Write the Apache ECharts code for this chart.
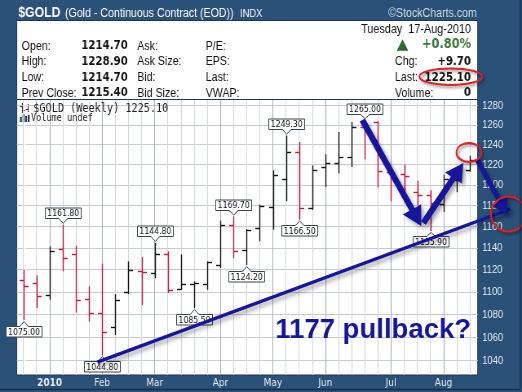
<!DOCTYPE html>
<html>
<head>
<meta charset="utf-8">
<script src="https://cdn.jsdelivr.net/npm/echarts@6/dist/echarts.min.js"></script>
<style>
html,body{margin:0;padding:0;background:#2c5178;overflow:hidden;width:522px;height:392px}
#chart{width:640px;height:392px;transform:scaleX(0.815625);transform-origin:0 0}
</style>
</head>
<body>
<div id="chart"></div>
<script>
// ---------- DATA (weekly OHLC, $GOLD) ----------
const weeks = ['2009-12-21','2009-12-28','2010-01-04','2010-01-11','2010-01-18','2010-01-25','2010-02-01','2010-02-08','2010-02-15','2010-02-22','2010-03-01','2010-03-08','2010-03-15','2010-03-22','2010-03-29','2010-04-05','2010-04-12','2010-04-19','2010-04-26','2010-05-03','2010-05-10','2010-05-17','2010-05-24','2010-05-31','2010-06-07','2010-06-14','2010-06-21','2010-06-28','2010-07-05','2010-07-12','2010-07-19','2010-07-26','2010-08-02','2010-08-09','2010-08-16'];
const opens  = [1111, 1108, 1097, 1139, 1134, 1093.5, 1081, 1069, 1100, 1118.5, 1117, 1134, 1102.5, 1107.5, 1107.3, 1124.6, 1162, 1137.8, 1158.8, 1178.5, 1206, 1233, 1178, 1217.7, 1221.3, 1227.5, 1258, 1263, 1213, 1211, 1193, 1190, 1182, 1205, 1215];
const highs  = [1120, 1115, 1141.5, 1161.8, 1142, 1105, 1125.5, 1098, 1127.6, 1131.6, 1144.8, 1137, 1134, 1109.5, 1127.6, 1165.7, 1169.7, 1157.8, 1181, 1214.4, 1249.3, 1242.7, 1219.3, 1230.3, 1252.9, 1263.2, 1265, 1264, 1219, 1220, 1204, 1195, 1210, 1214, 1228.9];
const lows   = [1075, 1085.5, 1093, 1118.5, 1081.6, 1073.7, 1044.8, 1062, 1098, 1088.4, 1112.4, 1099, 1102, 1085.5, 1101.9, 1121.6, 1130.8, 1124.2, 1146.2, 1157.2, 1184.3, 1166.5, 1176, 1197.9, 1211.4, 1217.7, 1225.3, 1197.6, 1184, 1186, 1179.6, 1155.9, 1174, 1193, 1213];
const closes = [1105, 1096, 1137.5, 1131, 1093, 1081, 1065, 1093, 1119.4, 1118, 1134, 1102, 1107.3, 1108, 1127, 1162, 1136.8, 1157, 1179.4, 1209.4, 1233, 1178, 1214.7, 1221.3, 1227.5, 1258, 1256, 1213.4, 1210, 1209, 1190, 1182.5, 1205.6, 1212, 1225.1];

const monthTickIdx    = [2, 6, 10, 15, 19, 23, 28, 32];
const monthTickLabels = ['2010', 'Feb', 'Mar', 'Apr', 'May', 'Jun', 'Jul', 'Aug'];
const priceTicks = [1040, 1060, 1080, 1100, 1120, 1140, 1160, 1180, 1200, 1220, 1240, 1260, 1280];
const yMin = 1028, yMax = 1286.5;

const calloutWeek  = [0, 3, 6, 10, 13, 16, 17, 20, 21, 26, 31];
const calloutPrice = [1075.00, 1161.80, 1044.80, 1144.80, 1085.50, 1169.70, 1124.20, 1249.30, 1166.50, 1265.00, 1155.90];
const calloutSide  = ['below', 'above', 'below', 'above', 'below', 'above', 'below', 'above', 'below', 'above', 'below'];

const quoteLabels1 = ['Open:', 'High:', 'Low:', 'Prev Close:'];
const quoteValues1 = ['1214.70', '1228.90', '1214.70', '1215.40'];
const quoteLabels2 = ['Ask:', 'Ask Size:', 'Bid:', 'Bid Size:'];
const quoteLabels3 = ['P/E:', 'EPS:', 'Last:', 'VWAP:'];
const quoteLabelsR = ['Chg:', 'Last:', 'Volume:'];
const quoteValuesR = ['+9.70', '1225.10', '0'];

// ---------- hand-drawn annotations, anchored in (week index, price) ----------
const ann = {
  trend:  [[5.63, 1038.8], [37.09, 1176.8]],
  arrow1: [[25.81, 1265.2], [30.30, 1160.6]],
  arrow2: [[30.46, 1163.4], [33.51, 1221.6]],
  arrow3: [[34.57, 1224.7], [36.86, 1171.0]],
  ring1:  [33.93, 1232.2],
  ring2:  [36.94, 1172.0],
  note:   [26.64, 1066.3]
};

// ---------- rendering ----------
const S = 522 / 640;           // horizontal squeeze of the original picture
const RED = '#d0163c', BLACK = '#141414', NAVY = '#16169c', RING = '#e21f1f';
const ln = Math.log;

const ohlcData = weeks.map((w, i) => [i, ln(opens[i]), ln(highs[i]), ln(lows[i]), ln(closes[i])]);
const calloutData = calloutWeek.map((w, k) => [w, ln(calloutPrice[k])]);

function renderOHLC(params, api) {
  const i = api.value(0);
  const pO = api.coord([i, api.value(1)]);
  const pH = api.coord([i, api.value(2)]);
  const pL = api.coord([i, api.value(3)]);
  const pC = api.coord([i, api.value(4)]);
  const k = params.dataIndex;
  const prev = k > 0 ? closes[k - 1] : opens[k];
  const color = closes[k] < prev ? RED : BLACK;
  const x = Math.round(pO[0]) + 0.5;
  const tw = 5.5;
  const st = {stroke: color, lineWidth: 1.4};
  const yo = Math.round(pO[1]) + 0.5, yc = Math.round(pC[1]) + 0.5;
  return {type: 'group', children: [
    {type: 'line', shape: {x1: x, y1: pH[1], x2: x, y2: pL[1]}, style: st},
    {type: 'line', shape: {x1: x - tw, y1: yo, x2: x, y2: yo}, style: st},
    {type: 'line', shape: {x1: x, y1: yc, x2: x + tw, y2: yc}, style: st}
  ]};
}

function renderCallout(params, api) {
  const k = params.dataIndex;
  const p = api.coord([api.value(0), api.value(1)]);
  const x = Math.round(p[0]) + 0.5;
  const w = 44, h = 10.5, ph = 5, pw = 5.5;
  let pts, ty;
  if (calloutSide[k] === 'above') {
    const apex = p[1] - 1.5, bb = Math.round(apex - ph) + 0.5, bt = bb - h;
    pts = [[x - w / 2, bt], [x + w / 2, bt], [x + w / 2, bb], [x + pw, bb], [x, apex], [x - pw, bb], [x - w / 2, bb]];
    ty = (bt + bb) / 2;
  } else {
    const apex = p[1] + 1.5, bt = Math.round(apex + ph) - 0.5, bb = bt + h;
    pts = [[x - w / 2, bt], [x - pw, bt], [x, apex], [x + pw, bt], [x + w / 2, bt], [x + w / 2, bb], [x - w / 2, bb]];
    ty = (bt + bb) / 2;
  }
  return {type: 'group', children: [
    {type: 'polygon', shape: {points: pts}, style: {fill: '#ffffff', stroke: '#38434f', lineWidth: 1}},
    {type: 'text', style: {text: calloutPrice[k].toFixed(2), x: x, y: ty + 0.5,
      align: 'center', verticalAlign: 'middle', textAlign: 'center', textVerticalAlign: 'middle',
      fontSize: 9.5, fontFamily: 'DejaVu Sans', fill: '#111'}}
  ]};
}

function renderAnnotations(params, api) {
  const P = a => { const c = api.coord([a[0], ln(a[1])]); return [c[0] * S, c[1]]; };
  const back = pts => pts.map(p => [p[0] / S, p[1]]);
  const shadow = {shadowBlur: 4, shadowColor: 'rgba(0,0,0,0.35)', shadowOffsetX: 3, shadowOffsetY: 3};
  function band(a, b, w) {
    const dx = b[0] - a[0], dy = b[1] - a[1], L = Math.hypot(dx, dy);
    const nx = -dy / L, ny = dx / L;
    return back([[a[0] + nx * w / 2, a[1] + ny * w / 2], [b[0] + nx * w / 2, b[1] + ny * w / 2],
                 [b[0] - nx * w / 2, b[1] - ny * w / 2], [a[0] - nx * w / 2, a[1] - ny * w / 2]]);
  }
  function arrow(a, b, w, hl, hw) {
    const dx = b[0] - a[0], dy = b[1] - a[1], L = Math.hypot(dx, dy);
    const ux = dx / L, uy = dy / L, nx = -uy, ny = ux;
    const bx = b[0] - ux * hl, by = b[1] - uy * hl;
    return back([[a[0] + nx * w / 2, a[1] + ny * w / 2], [bx + nx * w / 2, by + ny * w / 2],
                 [bx + nx * hw / 2, by + ny * hw / 2], [b[0], b[1]], [bx - nx * hw / 2, by - ny * hw / 2],
                 [bx - nx * w / 2, by - ny * w / 2], [a[0] - nx * w / 2, a[1] - ny * w / 2]]);
  }
  const poly = (pts) => ({type: 'polygon', shape: {points: pts}, style: Object.assign({fill: NAVY}, shadow)});
  const ring = (c, rx, ry) => {
    const q = P(c);
    return {type: 'ellipse', shape: {cx: q[0] / S, cy: q[1], rx: rx / S, ry: ry},
      style: Object.assign({fill: 'none', stroke: RING, lineWidth: 2}, {shadowBlur: 3, shadowColor: 'rgba(0,0,0,0.45)', shadowOffsetX: 2, shadowOffsetY: 2})};
  };
  const note = P(ann.note);
  return {type: 'group', children: [
    poly(band(P(ann.trend[0]), P(ann.trend[1]), 3.3)),
    poly(arrow(P(ann.arrow1[0]), P(ann.arrow1[1]), 6, 19, 21)),
    poly(arrow(P(ann.arrow2[0]), P(ann.arrow2[1]), 6, 18, 20)),
    poly(arrow(P(ann.arrow3[0]), P(ann.arrow3[1]), 5, 16, 18)),
    ring(ann.ring1, 12.5, 9.5),
    ring(ann.ring2, 17.5, 17.5),
    {type: 'text', x: note[0] / S, y: note[1], scaleX: 1 / S,
     style: {text: '1177 pullback?', x: 0, y: 0, align: 'center', verticalAlign: 'middle',
       textAlign: 'center', textVerticalAlign: 'middle', fontSize: 27.5, fontWeight: 'bold',
       fontFamily: 'Liberation Sans', fill: NAVY}}
  ]};
}

// ---------- header / decoration graphics (pixel layout of the page) ----------
const rowsY = [46, 61.8, 77.5, 93.2];
const txt = (text, x, y, o) => Object.assign({type: 'text', z: 100, x: x, y: y,
  style: Object.assign({text: text, fill: '#111', fontSize: 13, fontFamily: 'Liberation Sans',
    verticalAlign: 'middle', textVerticalAlign: 'middle', align: 'left', textAlign: 'left'}, o || {})});
const R = o => Object.assign({align: 'right', textAlign: 'right'}, o);
const VAL = {fontWeight: 'bold', fontSize: 12.5, fontFamily: 'DejaVu Sans'};

const graphics = [
  {type: 'rect', z: 90, shape: {x: 20.6, y: 20.5, width: 565.1, height: 79}, style: {fill: '#ffffff', stroke: '#1f3550', lineWidth: 1}},
  txt('$GOLD', 22.4, 13, {fill: '#ffffff', fontSize: 15, fontWeight: 'bold'}),
  txt('(Gold - Continuous Contract (EOD))', 79.7, 13.5, {fill: '#ffffff', fontSize: 13}),
  txt('INDX', 294.3, 13.5, {fill: '#ffffff', fontSize: 11.5}),
  txt('\u00a9StockCharts.com', 584.5, 13.5, R({fill: '#d3dce7', fontSize: 13})),
  txt('Tuesday  17-Aug-2010', 577.5, 29.3, R({fontSize: 13.3})),
  {type: 'polygon', z: 100, shape: {points: [[486.4, 50.7], [493.5, 39.3], [500.6, 50.7]]}, style: {fill: '#2e6b30'}},
  txt('+0.80%', 577.5, 44.8, R({fontSize: 14, fontWeight: 'bold', fontFamily: 'DejaVu Sans', fill: '#367a37'})),
  // plot legend
  txt('$GOLD (Weekly) 1225.10', 40.8, 108.3, {fontSize: 12.5, fontFamily: 'DejaVu Sans Mono', fill: '#222'}),
  txt('Volume undef', 38, 118.5, {fontSize: 10.5, fontFamily: 'DejaVu Sans Mono', fill: '#222'}),
  {type: 'group', z: 100, children: [
    {type: 'line', shape: {x1: 27.5, y1: 103, x2: 27.5, y2: 113}, style: {stroke: '#333', lineWidth: 1.2}},
    {type: 'line', shape: {x1: 24.5, y1: 106.5, x2: 27.5, y2: 106.5}, style: {stroke: '#333', lineWidth: 1}},
    {type: 'line', shape: {x1: 27.5, y1: 110.5, x2: 30.5, y2: 110.5}, style: {stroke: '#333', lineWidth: 1}},
    {type: 'line', shape: {x1: 34.5, y1: 104, x2: 34.5, y2: 112}, style: {stroke: '#333', lineWidth: 1.2}},
    {type: 'line', shape: {x1: 31.5, y1: 109.5, x2: 34.5, y2: 109.5}, style: {stroke: '#333', lineWidth: 1}},
    {type: 'line', shape: {x1: 34.5, y1: 105.5, x2: 37.5, y2: 105.5}, style: {stroke: '#333', lineWidth: 1}},
    {type: 'rect', shape: {x: 24.5, y: 117, width: 2.2, height: 5}, style: {fill: '#22344f'}},
    {type: 'rect', shape: {x: 27.7, y: 114, width: 2.2, height: 8}, style: {fill: '#22344f'}},
    {type: 'rect', shape: {x: 30.9, y: 116, width: 2.2, height: 6}, style: {fill: '#22344f'}},
    {type: 'rect', shape: {x: 34.1, y: 115, width: 2.2, height: 7}, style: {fill: '#22344f'}}
  ]},
  {type: 'ellipse', z: 110, shape: {cx: 552.7, cy: 76.7, rx: 38.6, ry: 8.3},
   style: {fill: 'none', stroke: RING, lineWidth: 2, shadowBlur: 3, shadowColor: 'rgba(0,0,0,0.45)', shadowOffsetX: 2, shadowOffsetY: 2}},
  {type: 'line', z: 100, shape: {x1: 637.8, y1: 0, x2: 637.8, y2: 389.5}, style: {stroke: '#15304c', lineWidth: 1.5}},
  {type: 'line', z: 100, shape: {x1: 0, y1: 389.5, x2: 638, y2: 389.5}, style: {stroke: '#15304c', lineWidth: 1.5}}
];
quoteLabels1.forEach((t, r) => graphics.push(txt(t, 26.6, rowsY[r])));
quoteValues1.forEach((t, r) => graphics.push(txt(t, 156.6, rowsY[r], R(VAL))));
quoteLabels2.forEach((t, r) => graphics.push(txt(t, 168.3, rowsY[r])));
quoteLabels3.forEach((t, r) => graphics.push(txt(t, 252.2, rowsY[r])));
quoteLabelsR.forEach((t, r) => graphics.push(txt(t, 484.3, rowsY[r + 1])));
quoteValuesR.forEach((t, r) => graphics.push(txt(t, 577.5, rowsY[r + 1], R(VAL))));

const chart = echarts.init(document.getElementById('chart'));
const axisTextColor = '#e6edf5';
chart.setOption({
  animation: false,
  backgroundColor: '#2c5178',
  grid: {left: 20.6, right: 54.3, top: 99.5, bottom: 17, show: true,
         backgroundColor: '#ffffff', borderColor: '#1f3550', borderWidth: 1},
  xAxis: [{
    type: 'value', min: -0.5, max: 34.6,
    axisLine: {show: false},
    axisTick: {show: false, customValues: weeks.map((w, i) => i)},
    axisLabel: {
      customValues: monthTickIdx, margin: 3,
      color: axisTextColor, fontSize: 11, fontFamily: 'DejaVu Sans',
      formatter: v => {
        const t = monthTickLabels[monthTickIdx.indexOf(Math.round(v))];
        return /^\d{4}$/.test(t) ? '{b|' + t + '}' : t;
      },
      rich: {b: {fontWeight: 'bold', color: axisTextColor, fontSize: 11, fontFamily: 'DejaVu Sans'}}
    },
    splitLine: {show: true, lineStyle: {color: '#d2d6de', width: 1}}
  }, {
    type: 'value', min: -0.5, max: 34.6, position: 'top',
    axisLine: {show: false},
    axisTick: {show: false, customValues: monthTickIdx},
    axisLabel: {show: false},
    splitLine: {show: true, lineStyle: {color: '#a4adbb', width: 1}}
  }],
  yAxis: {
    type: 'value', position: 'right', min: ln(yMin), max: ln(yMax),
    axisLine: {show: false},
    axisTick: {show: true, length: 3, customValues: priceTicks.map(ln), lineStyle: {color: axisTextColor}},
    axisLabel: {customValues: priceTicks.map(ln), margin: 5.5, color: axisTextColor,
      fontSize: 11.5, fontFamily: 'Liberation Sans',
      formatter: v => String(Math.round(Math.exp(v)))},
    splitLine: {show: true, lineStyle: {color: '#c6cbd3', width: 1}}
  },
  graphic: {elements: graphics},
  series: [
    {type: 'custom', name: 'OHLC', z: 3, clip: false, silent: true,
     data: ohlcData, encode: {x: 0, y: [1, 2, 3, 4]}, renderItem: renderOHLC},
    {type: 'custom', name: 'Callouts', z: 4, clip: false, silent: true,
     data: calloutData, encode: {x: 0, y: 1}, renderItem: renderCallout},
    {type: 'custom', name: 'Annotations', z: 5, clip: false, silent: true,
     data: [[0, ln(1100)]], encode: {x: 0, y: 1}, renderItem: renderAnnotations}
  ]
});
</script>
</body>
</html>
